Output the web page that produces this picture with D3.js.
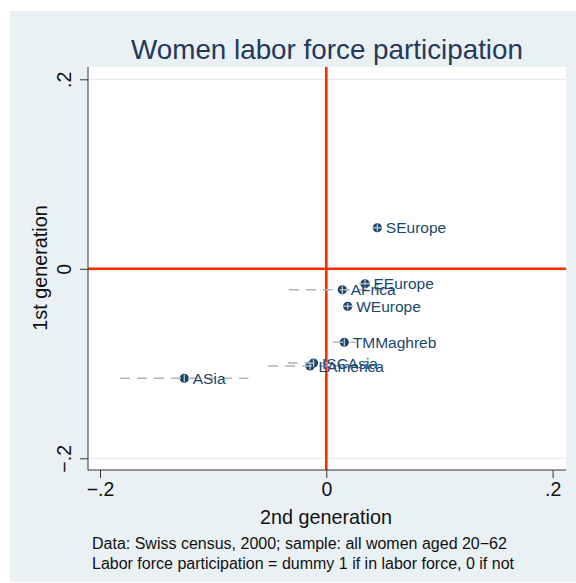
<!DOCTYPE html>
<html>
<head>
<meta charset="utf-8">
<script src="https://cdn.jsdelivr.net/npm/d3@7"></script>
<style>
  html, body { margin: 0; padding: 0; background: #ffffff; }
  svg { display: block; font-family: "Liberation Sans", Arial, Helvetica, sans-serif; }
</style>
</head>
<body>
<svg id="chart" width="576" height="583"></svg>
<script>
// Region groups and their coefficients: 2nd generation (x) vs 1st generation (y)
const regions   = ["SEurope", "EEurope", "AFrica", "WEurope", "TMMaghreb", "LAmerica", "ISCAsia", "ASia"];
const secondGen = [0.0451, 0.0342, 0.0141, 0.0189, 0.0159, -0.0144, -0.0113, -0.1255];
const firstGen  = [0.0433, -0.0158, -0.0222, -0.0395, -0.0775, -0.1026, -0.0994, -0.1155];
// Confidence bands around each estimate
const secondLo  = [0.041, 0.029, -0.033, 0.015, 0.006, -0.0515, -0.034, -0.1823];
const secondHi  = [0.049, 0.039, 0.061, 0.023, 0.026, 0.023, 0.012, -0.0688];
const firstLo   = [0.0395, -0.0200, -0.0265, -0.0430, -0.0815, -0.1065, -0.1035, -0.1195];
const firstHi   = [0.0470, -0.0115, -0.0180, -0.0360, -0.0735, -0.0985, -0.0955, -0.1115];
// Axis ticks
const xTicks = [-0.2, 0, 0.2];
const yTicks = [-0.2, 0, 0.2];
const tickText = v => v === 0 ? "0" : (v < 0 ? "\u2212" : "") + "." + String(Math.round(Math.abs(v) * 10));

const titleText = "Women labor force participation";
const xTitle = "2nd generation";
const yTitle = "1st generation";
const notes = [
  "Data: Swiss census, 2000; sample: all women aged 20\u221262",
  "Labor force participation = dummy 1 if in labor force, 0 if not"
];

const svg = d3.select("#chart");
const navy = "#1a476f";
const frame = { left: 88, right: 566, top: 67, bottom: 470 };

const x = d3.scaleLinear().domain([-0.2, 0.2]).range([100, 552.6]);
const y = d3.scaleLinear().domain([-0.2, 0.2]).range([458.3, 79.3]);

// Graph region and plot region
svg.append("rect").attr("x", 10).attr("y", 11).attr("width", 566).attr("height", 571)
  .attr("fill", "#eaf1f4");
svg.append("rect").attr("x", frame.left).attr("y", frame.top)
  .attr("width", frame.right - frame.left).attr("height", frame.bottom - frame.top)
  .attr("fill", "#ffffff");

// Horizontal grid lines
svg.append("g").selectAll("line").data(yTicks).join("line")
  .attr("x1", frame.left).attr("x2", frame.right)
  .attr("y1", d => y(d)).attr("y2", d => y(d))
  .attr("stroke", "#e4ecf0").attr("stroke-width", 1.2);

// Reference lines at zero
svg.append("line").attr("x1", x(0)).attr("x2", x(0))
  .attr("y1", frame.top).attr("y2", frame.bottom)
  .attr("stroke", "#ff2a00").attr("stroke-width", 2.6);
svg.append("line").attr("x1", frame.left).attr("x2", frame.right)
  .attr("y1", y(0)).attr("y2", y(0))
  .attr("stroke", "#ff2a00").attr("stroke-width", 2.6);

const idx = d3.range(regions.length);

// Markers
svg.append("g").selectAll("circle").data(idx).join("circle")
  .attr("cx", i => x(secondGen[i])).attr("cy", i => y(firstGen[i]))
  .attr("r", 4.6).attr("fill", navy);

// Confidence bands: dashed horizontal, short vertical
svg.append("g").selectAll("line").data(idx).join("line")
  .attr("x1", i => x(secondLo[i])).attr("x2", i => x(secondHi[i]))
  .attr("y1", i => y(firstGen[i])).attr("y2", i => y(firstGen[i]))
  .attr("stroke", "#b4b4b4").attr("stroke-width", 1.5)
  .attr("stroke-dasharray", "10,7");
svg.append("g").selectAll("line").data(idx).join("line")
  .attr("x1", i => x(secondGen[i])).attr("x2", i => x(secondGen[i]))
  .attr("y1", i => y(firstLo[i])).attr("y2", i => y(firstHi[i]))
  .attr("stroke", "#c8ccd0").attr("stroke-width", 1.2);

// Marker labels
svg.append("g").selectAll("text").data(idx).join("text")
  .attr("x", i => x(secondGen[i]) + 8.5)
  .attr("y", i => y(firstGen[i]) + 5.6)
  .attr("fill", navy).attr("font-size", 15.5)
  .text(i => regions[i]);

// Axes
const xAxis = svg.append("g").attr("transform", `translate(0,${frame.bottom})`)
  .call(d3.axisBottom(x).tickValues(xTicks).tickSize(8).tickPadding(4).tickFormat(tickText));
xAxis.select(".domain").attr("d", `M${frame.left},0H${frame.right}`).attr("stroke", "#333");
xAxis.selectAll(".tick line").attr("stroke", "#333");
xAxis.selectAll(".tick text").attr("font-size", 19.5).attr("fill", "#111")
  .attr("font-family", "Liberation Sans, Arial, sans-serif");

const yAxis = svg.append("g").attr("transform", `translate(${frame.left},0)`)
  .call(d3.axisLeft(y).tickValues(yTicks).tickSize(8).tickFormat(tickText));
yAxis.select(".domain").attr("d", `M0,${frame.top}V${frame.bottom}`).attr("stroke", "#333");
yAxis.selectAll(".tick line").attr("stroke", "#333");
yAxis.selectAll(".tick text")
  .attr("x", null).attr("dy", null)
  .attr("text-anchor", "middle")
  .attr("transform", "translate(-17,0) rotate(-90)")
  .attr("font-size", 19.5).attr("fill", "#111")
  .attr("font-family", "Liberation Sans, Arial, sans-serif");

// Titles
svg.append("text").attr("x", 327).attr("y", 59).attr("text-anchor", "middle")
  .attr("font-size", 27.8).attr("fill", "#24395a").text(titleText);
svg.append("text").attr("x", 326).attr("y", 524).attr("text-anchor", "middle")
  .attr("font-size", 19.8).attr("fill", "#111").text(xTitle);
svg.append("text").attr("transform", "translate(47,268) rotate(-90)").attr("text-anchor", "middle")
  .attr("font-size", 19.8).attr("fill", "#111").text(yTitle);

// Notes
svg.append("g").selectAll("text").data(notes).join("text")
  .attr("x", 92).attr("y", (d, i) => 549 + i * 20)
  .attr("font-size", 16).attr("fill", "#111").text(d => d);
</script>
</body>
</html>
